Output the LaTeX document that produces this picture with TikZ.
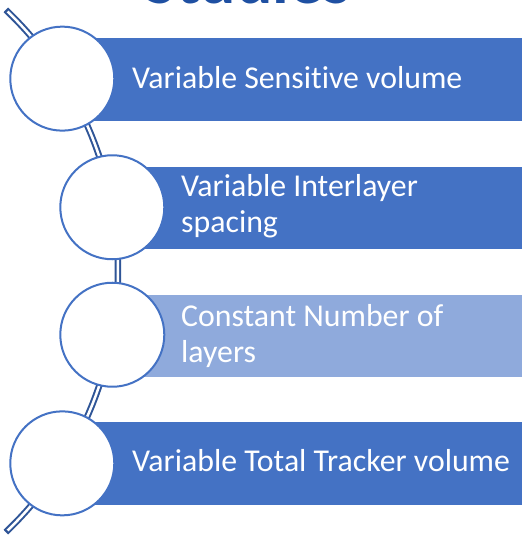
\documentclass[tikz,border=0pt]{standalone}
\usepackage{fontspec}
\setmainfont{Carlito}[Ligatures=NoCommon]
\usetikzlibrary{calc}
\definecolor{accent}{HTML}{4472C4}
\definecolor{accentlight}{HTML}{8FAADC}
\definecolor{arcblue}{HTML}{2F5597}
\definecolor{titleblue}{HTML}{1F50A2}
\tikzset{
  bar/.style={fill=accent, draw=none},
  barlight/.style={fill=accentlight, draw=none},
  ring/.style={circle, draw=accent, line width=2pt, fill=white, minimum size=104pt, inner sep=0pt},
  label/.style={text=white, font=\fontsize{31.8}{36}\selectfont, align=left, anchor=base west, inner sep=0pt},
}
\begin{document}
\begin{tikzpicture}[x=1pt,y=1pt]
\useasboundingbox (0,0) rectangle (523,536);
\clip (0,0) rectangle (523,536);
% title (cut off at top)
\node[text=titleblue, font=\fontsize{68}{70}\bfseries\selectfont, anchor=base, inner sep=0pt] (title) at (247.5,532) {Studies};
% arc connector
\coordinate (ac) at (-242,265);
\draw[arcblue, line width=6.5pt] ($(ac)+(46.5:360)$) arc[start angle=46.5, end angle=-46.5, radius=360];
\draw[white, line width=2.5pt] ($(ac)+(46.1:360)$) arc[start angle=46.1, end angle=-46.1, radius=360];
% bars
\fill[bar] (62.5,415) rectangle (522,498) coordinate (r1);
\fill[bar] (112,287) rectangle (522,369) coordinate (r2);
\fill[barlight] (112,159) rectangle (522,241) coordinate (r3);
\fill[bar] (62.5,31) rectangle (522,114) coordinate (r4);
% circles
\node[ring] (c1) at ($(ac)+(32.3:360)$) {};
\node[ring] (c2) at ($(ac)+(10.2:360)$) {};
\node[ring] (c3) at ($(ac)+(-10.2:360)$) {};
\node[ring] (c4) at ($(ac)+(-32.3:360)$) {};
% labels (multi-line: base = last line)
\node[label] (t1) at (132,447.7) {Variable Sensitive volume};
\node[label] (t2) at (181,303.3) {Variable Interlayer\\spacing};
\node[label] (t3) at (181,173.3) {Constant Number of\\layers};
\node[label] (t4) at (132,64.3) {Variable Total Tracker volume};
\end{tikzpicture}
\end{document}
